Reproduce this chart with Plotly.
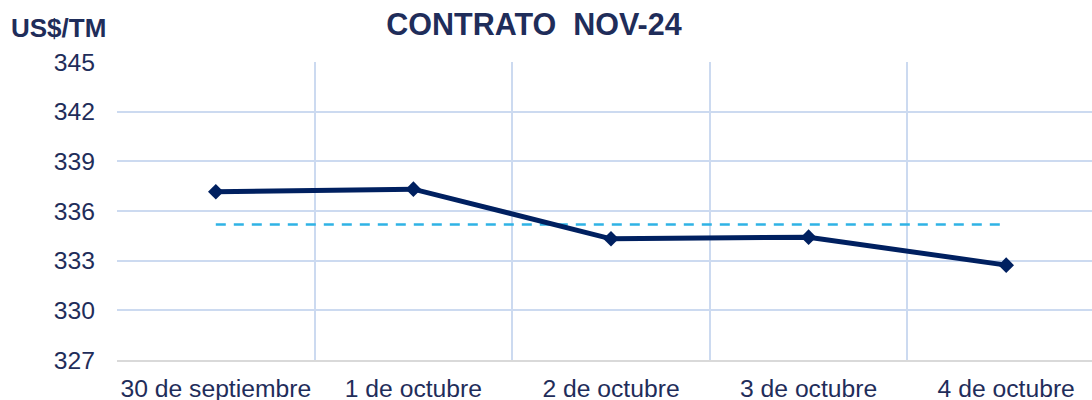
import plotly.graph_objects as go

categories = ["30 de septiembre", "1 de octubre", "2 de octubre", "3 de octubre", "4 de octubre"]
prices = [337.16, 337.32, 334.32, 334.42, 332.73]
y_ticks = [327, 330, 333, 336, 339, 342, 345]

x_pos = list(range(len(categories)))
avg = sum(prices) / len(prices)

TEXT = "#1F2D5A"
GRID = "#CCDAF0"
FONT = "Arial, Liberation Sans, sans-serif"
TICK = 24.7

fig = go.Figure()
fig.add_trace(go.Scatter(
    x=[x_pos[0], x_pos[-1]], y=[avg, avg], mode="lines",
    line=dict(color="#2FB3E5", width=2.5, dash="10px,8px"),
    hoverinfo="skip", showlegend=False))
fig.add_trace(go.Scatter(
    x=x_pos, y=prices, mode="lines+markers",
    line=dict(color="#002060", width=5),
    marker=dict(symbol="diamond", size=12, color="#002060"),
    showlegend=False))

fig.update_layout(
    width=1092, height=400,
    margin=dict(l=117, r=0, t=62, b=40, autoexpand=False),
    paper_bgcolor="white", plot_bgcolor="white",
    font=dict(family=FONT, color=TEXT, size=TICK),
    title=dict(text="<b>CONTRATO  NOV-24</b>", x=0.489, xanchor="center",
               y=0.94, yanchor="middle", font=dict(size=30.5, color=TEXT, family=FONT)),
    annotations=[dict(text="<b>US$/TM</b>", xref="paper", yref="paper",
                      x=-0.0605, y=1.115, xanchor="center", yanchor="middle",
                      showarrow=False, font=dict(size=26, color=TEXT, family=FONT))],
)
fig.update_xaxes(
    automargin=False,
    range=[-0.5, -0.5 + (1092 - 117) / 197.6],
    tickvals=x_pos, ticktext=categories, showgrid=False, zeroline=False,
    showline=True, linecolor="#D9D9D9", linewidth=1.5,
    ticks="", tickfont=dict(size=TICK, color=TEXT), ticklabelstandoff=6,
    minor=dict(tickvals=[i - 0.5 for i in range(len(categories) + 1)],
               showgrid=True, gridcolor=GRID, gridwidth=1.8, ticks=""),
)
fig.update_yaxes(
    automargin=False,
    range=[y_ticks[0], y_ticks[-1]], tickvals=y_ticks, showgrid=True,
    gridcolor=GRID, gridwidth=1.8, zeroline=False, ticks="",
    ticklabelstandoff=21, tickfont=dict(size=TICK, color=TEXT),
)

fig.write_html("out.html", post_script="document.body.style.margin='0';",
               config={"displayModeBar": False})
